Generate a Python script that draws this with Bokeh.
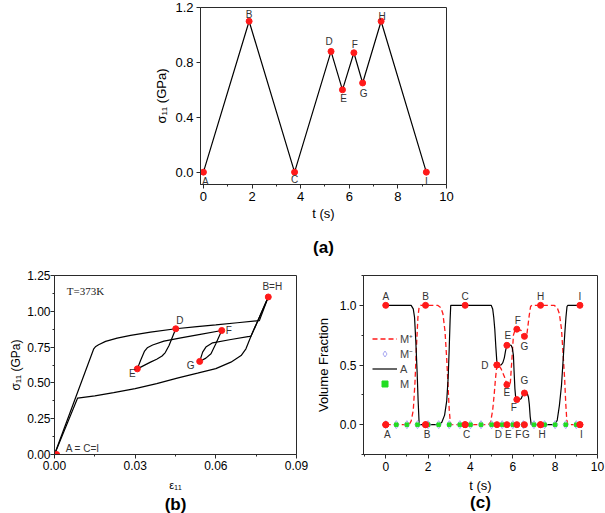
from bokeh.plotting import figure
from bokeh.layouts import column, row
from bokeh.models import (FixedTicker, PrintfTickFormatter, Title, Range1d,
                          Legend, LegendItem, ColumnDataSource, Label)
from bokeh.core.properties import value
from bokeh.embed import file_html
from bokeh.resources import INLINE

FONT = "Liberation Sans"
RED = "#ff1a1a"
INK = "#2a2a2a"

# ---------------- data: loading events (panel a, reused in c) ----------------
event_labels = ["A", "B", "C", "D", "E", "F", "G", "H", "I"]
event_t = [0.0, 1.88, 3.75, 5.25, 5.72, 6.19, 6.55, 7.31, 9.17]
event_stress = [0.0, 1.10, 0.0, 0.88, 0.60, 0.87, 0.65, 1.10, 0.0]

a_xticks = [0, 2, 4, 6, 8, 10]
a_xminor = [1, 3, 5, 7, 9]
a_yticks = [0.0, 0.4, 0.8, 1.2]

# ---------------- data: panel (b) stress-strain at T=373K ----------------
b_load_strain = [0.0, 0.0146, 0.0152, 0.0164, 0.0190, 0.0233, 0.0283, 0.0357,
                 0.0451, 0.0530, 0.0600, 0.0680, 0.0762, 0.0795]
b_load_stress = [0.0, 0.738, 0.752, 0.766, 0.790, 0.813, 0.832, 0.855,
                 0.878, 0.893, 0.905, 0.920, 0.935, 1.100]
b_unload_strain = [0.0795, 0.0731, 0.0712, 0.0694, 0.0656, 0.0600, 0.0532,
                   0.0460, 0.0380, 0.0300, 0.0220, 0.0150, 0.0086, 0.0]
b_unload_stress = [1.100, 0.827, 0.738, 0.691, 0.645, 0.600, 0.568,
                   0.535, 0.495, 0.460, 0.432, 0.410, 0.394, 0.0]
b_de_strain = [0.0451, 0.0426, 0.0412, 0.0400, 0.0380, 0.0357, 0.0308]
b_de_stress = [0.878, 0.761, 0.712, 0.688, 0.665, 0.645, 0.598]
b_ef_strain = [0.0308, 0.0320, 0.0335, 0.0345, 0.0365, 0.0407, 0.0470, 0.0532, 0.0622]
b_ef_stress = [0.598, 0.656, 0.722, 0.745, 0.765, 0.792, 0.815, 0.836, 0.866]
b_fg_strain = [0.0622, 0.0600, 0.0582, 0.0563, 0.0540]
b_fg_stress = [0.866, 0.773, 0.703, 0.673, 0.650]
b_gh_strain = [0.0540, 0.0551, 0.0563, 0.0588, 0.0656, 0.0725, 0.0731, 0.0795]
b_gh_stress = [0.650, 0.715, 0.750, 0.780, 0.803, 0.825, 0.827, 1.100]

b_pt_labels = ["A = C=I", "B=H", "D", "E", "F", "G"]
b_pt_strain = [0.0008, 0.0795, 0.0451, 0.0308, 0.0622, 0.0540]
b_pt_stress = [0.0, 1.100, 0.878, 0.598, 0.866, 0.650]

b_xticks = [0.0, 0.03, 0.06, 0.09]
b_xminor = [0.015, 0.045, 0.075]
b_yticks = [0.0, 0.25, 0.5, 0.75, 1.0, 1.25]
b_yminor = [0.125, 0.375, 0.625, 0.875, 1.125]

# ---------------- data: panel (c) volume fractions ----------------
c_A_t = [0.0, 1.20, 1.30, 1.36, 1.42, 1.48, 1.53, 1.58,
         2.52, 2.65, 2.78, 2.88, 2.95, 3.00, 3.04, 3.07,
         4.98, 5.05, 5.10, 5.15, 5.20, 5.25, 5.30, 5.45, 5.53, 5.60, 5.66, 5.72,
         5.80, 5.92, 5.98, 6.03, 6.06, 6.10, 6.14, 6.19, 6.33, 6.40, 6.47, 6.55,
         6.68, 6.74, 6.78, 6.82, 6.87,
         8.00, 8.10, 8.20, 8.30, 8.38, 8.45, 8.51, 8.56, 8.60, 9.17]
c_A_v = [1.0, 1.0, 0.97, 0.90, 0.70, 0.45, 0.20, 0.0,
         0.0, 0.02, 0.08, 0.20, 0.40, 0.65, 0.88, 1.0,
         1.0, 0.97, 0.90, 0.80, 0.65, 0.52, 0.50, 0.50, 0.52, 0.56, 0.62, 0.665,
         0.668, 0.665, 0.64, 0.58, 0.45, 0.30, 0.22, 0.21, 0.21, 0.22, 0.25, 0.265,
         0.263, 0.23, 0.17, 0.07, 0.0,
         0.0, 0.04, 0.16, 0.33, 0.55, 0.75, 0.90, 0.99, 1.0, 1.0]

c_Mp_t = [0.0, 1.10, 1.20, 1.30, 1.38, 1.45, 1.52, 1.58, 1.65,
          2.45, 2.60, 2.70, 2.80, 2.88, 2.95, 3.00, 3.05, 3.10,
          4.85, 4.95, 5.05, 5.12, 5.18, 5.25, 5.33, 5.45, 5.61, 5.72, 5.88,
          5.97, 6.03, 6.10, 6.19, 6.39, 6.44, 6.55, 6.66, 6.78, 6.84, 6.90,
          7.95, 8.10, 8.20, 8.30, 8.38, 8.45, 8.50, 8.55, 8.60, 9.17]
c_Mp_v = [0.0, 0.0, 0.03, 0.12, 0.35, 0.65, 0.90, 0.99, 1.0,
          1.0, 0.98, 0.93, 0.78, 0.55, 0.30, 0.12, 0.02, 0.0,
          0.0, 0.02, 0.12, 0.25, 0.38, 0.50, 0.50, 0.467, 0.40, 0.335, 0.34,
          0.58, 0.75, 0.79, 0.80, 0.79, 0.75, 0.74, 0.75, 0.92, 0.99, 1.0,
          1.0, 0.98, 0.93, 0.80, 0.58, 0.38, 0.18, 0.04, 0.0, 0.0]

c_sample_t = [0.0, 0.5, 1.0, 1.5, 2.0, 2.5, 3.0, 3.5, 4.0, 4.5, 5.0, 5.5,
              6.0, 6.5, 7.0, 7.5, 8.0, 8.5, 9.0]
c_Mm_v = [0.0] * 19
c_M_v = [0.0] * 19

c_event_A = [1.0, 0.0, 1.0, 0.50, 0.665, 0.21, 0.265, 0.0, 1.0]
c_event_Mp = [0.0, 1.0, 0.0, 0.50, 0.335, 0.80, 0.74, 1.0, 0.0]
c_event_Mm = [0.0, 0.0, 0.0, 0.0, 0.0, 0.0, 0.0, 0.0, 0.0]

c_xticks = [0, 2, 4, 6, 8, 10]
c_xminor = [-1, 1, 3, 5, 7, 9]
c_yticks = [0.0, 0.5, 1.0]
c_yminor = [-0.25, 0.25, 0.75, 1.25]


def base_fig(width, height, xr, yr, mbl, mbr, mbt, mbb):
    p = figure(width=width, height=height, x_range=Range1d(*xr), y_range=Range1d(*yr),
               output_backend="svg", toolbar_location=None,
               min_border_left=mbl, min_border_right=mbr,
               min_border_top=mbt, min_border_bottom=mbb)
    p.xgrid.visible = False
    p.ygrid.visible = False
    p.outline_line_color = INK
    p.outline_line_width = 1
    p.background_fill_color = "white"
    p.border_fill_color = "white"
    return p


def style_axes(p, xt, xm, yt, ym, xfmt, yfmt, xlabel, ylabel, tick_px,
               xlabel_px, ylabel_px, x_ls, x_as, y_ls, y_as):
    p.xaxis.ticker = FixedTicker(ticks=xt, minor_ticks=xm)
    p.yaxis.ticker = FixedTicker(ticks=yt, minor_ticks=ym)
    p.xaxis.formatter = PrintfTickFormatter(format=xfmt)
    p.yaxis.formatter = PrintfTickFormatter(format=yfmt)
    p.xaxis.axis_label = xlabel
    p.yaxis.axis_label = ylabel
    for ax, lpx, ls, als in ((p.xaxis[0], xlabel_px, x_ls, x_as),
                             (p.yaxis[0], ylabel_px, y_ls, y_as)):
        ax.axis_line_color = INK
        ax.major_tick_line_color = INK
        ax.minor_tick_line_color = INK
        ax.major_tick_in = 0
        ax.major_tick_out = 4
        ax.minor_tick_in = 0
        ax.minor_tick_out = 2
        ax.major_label_text_font = FONT
        ax.major_label_text_font_size = tick_px
        ax.major_label_text_color = "black"
        ax.major_label_standoff = ls
        ax.axis_label_text_font = FONT
        ax.axis_label_text_font_size = lpx
        ax.axis_label_text_font_style = "normal"
        ax.axis_label_text_color = "black"
        ax.axis_label_standoff = als


def panel_title(p, text, standoff):
    p.add_layout(Title(text=text, align="center", text_font=FONT, text_font_size="17px",
                       text_font_style="bold", text_color="black", standoff=standoff), "below")


# ---------------- panel (a) ----------------
pa = base_fig(605, 268, (-0.12, 10.0), (-0.09, 1.2), 200, 159, 7, 84)
style_axes(pa, a_xticks, a_xminor, a_yticks, [], "%d", "%.1f",
           "t (s)", "σ₁₁ (GPa)", "13px", "13px", "13px", 3, 2, 3, 3)
pa.line(event_t, event_stress, line_color="black", line_width=1.2)
pa.scatter(event_t, event_stress, size=6, color=RED)
a_src = ColumnDataSource(dict(x=event_t, y=event_stress, text=event_labels,
                              dx=[2, 0, 0, -2, 1, 1, 1, 1, 0],
                              dy=[9, -7, 7, -10, 9, -8, 11, -5, 9]))
pa.text("x", "y", text="text", source=a_src, x_offset="dx", y_offset="dy",
        text_font=value(FONT), text_font_size="10px", text_align="center",
        text_baseline="middle", text_color="#333333")
panel_title(pa, "(a)", 24)

# ---------------- panel (b) ----------------
pb = base_fig(311, 245, (0.0, 0.09), (0.0, 1.25), 54, 15, 7, 59)
style_axes(pb, b_xticks, b_xminor, b_yticks, b_yminor, "%.2f", "%.2f",
           "ε₁₁", "σ₁₁ (GPa)", "12px", "11px", "12px", 2, 6, 0, 1)
for xs, ys in [(b_load_strain, b_load_stress), (b_unload_strain, b_unload_stress),
               (b_de_strain, b_de_stress), (b_ef_strain, b_ef_stress),
               (b_fg_strain, b_fg_stress), (b_gh_strain, b_gh_stress)]:
    pb.line(xs, ys, line_color="black", line_width=1.2)
pb.scatter(b_pt_strain, b_pt_stress, size=6, color=RED)
b_src = ColumnDataSource(dict(x=b_pt_strain, y=b_pt_stress, text=b_pt_labels,
                              dx=[9, 4, 4, -5, 7, -9],
                              dy=[-6, -10, -8, 5, 0, 4],
                              align=["left", "center", "center", "center", "center", "center"]))
pb.text("x", "y", text="text", source=b_src, x_offset="dx", y_offset="dy",
        text_font=value(FONT), text_font_size="10px", text_align="align",
        text_baseline="middle", text_color="#333333")
pb.add_layout(Label(x=0.0046, y=1.145, text="T=373K", text_font="Liberation Serif",
                    text_font_size="11px", text_baseline="middle", text_color="#222222"))
panel_title(pb, "(b)", -2)

# ---------------- panel (c) ----------------
pc = base_fig(294, 245, (-1.05, 10.0), (-0.25, 1.25), 52, 8, 7, 59)
style_axes(pc, c_xticks, c_xminor, c_yticks, c_yminor, "%d", "%.1f",
           "t (s)", "Volume Fraction", "12px", "13px", "13px", 3, 4, 3, 6)
r_mp = pc.line(c_Mp_t, c_Mp_v, line_color=RED, line_width=1.3, line_dash="5 3")
r_a = pc.line(c_A_t, c_A_v, line_color="black", line_width=1.2)
r_mm = pc.scatter(c_sample_t, c_Mm_v, marker="diamond", size=8, fill_color=None,
                  line_color="#a9a9f2", line_width=1)
r_m = pc.scatter(c_sample_t, c_M_v, marker="square", size=3.5, color="#22dd22")
pc.scatter(event_t, c_event_A, size=6, color=RED)
pc.scatter(event_t, c_event_Mp, size=6, color=RED)
pc.scatter(event_t, c_event_Mm, size=6, color=RED)

top_idx = [0, 1, 2, 7, 8]
lab_x, lab_y, lab_t, lab_dx, lab_dy = [], [], [], [], []
for i in top_idx:
    lab_x.append(event_t[i]); lab_y.append(max(c_event_A[i], c_event_Mp[i]))
    lab_t.append(event_labels[i]); lab_dx.append(0); lab_dy.append(-9)
for i in range(9):
    lab_x.append(event_t[i]); lab_y.append(c_event_Mm[i])
    lab_t.append(event_labels[i]); lab_dx.append(1.5); lab_dy.append(10)
mid = [(3, c_event_A, -12, 0), (4, c_event_A, 1, -10), (4, c_event_Mp, 0, 8),
       (5, c_event_Mp, 1, -9), (5, c_event_A, -3, 8),
       (6, c_event_Mp, 0, 10), (6, c_event_A, 0, -13)]
for i, arr, dx, dy in mid:
    lab_x.append(event_t[i]); lab_y.append(arr[i])
    lab_t.append(event_labels[i]); lab_dx.append(dx); lab_dy.append(dy)
c_src = ColumnDataSource(dict(x=lab_x, y=lab_y, text=lab_t, dx=lab_dx, dy=lab_dy))
pc.text("x", "y", text="text", source=c_src, x_offset="dx", y_offset="dy",
        text_font=value(FONT), text_font_size="10px", text_align="center",
        text_baseline="middle", text_color="#333333")

legend = Legend(items=[LegendItem(label="M⁺", renderers=[r_mp]),
                       LegendItem(label="M⁻", renderers=[r_mm]),
                       LegendItem(label="A", renderers=[r_a]),
                       LegendItem(label="M", renderers=[r_m])],
                location=(9, 63), background_fill_alpha=0, border_line_alpha=0,
                label_text_font=FONT, label_text_font_size="11px",
                glyph_width=25, glyph_height=15, label_height=15,
                spacing=0, padding=0, margin=0, label_standoff=3)
pc.add_layout(legend)
panel_title(pc, "(c)", -10)

layout = column(pa, row(pb, pc))
open("out.html", "w").write(file_html(layout, INLINE))
